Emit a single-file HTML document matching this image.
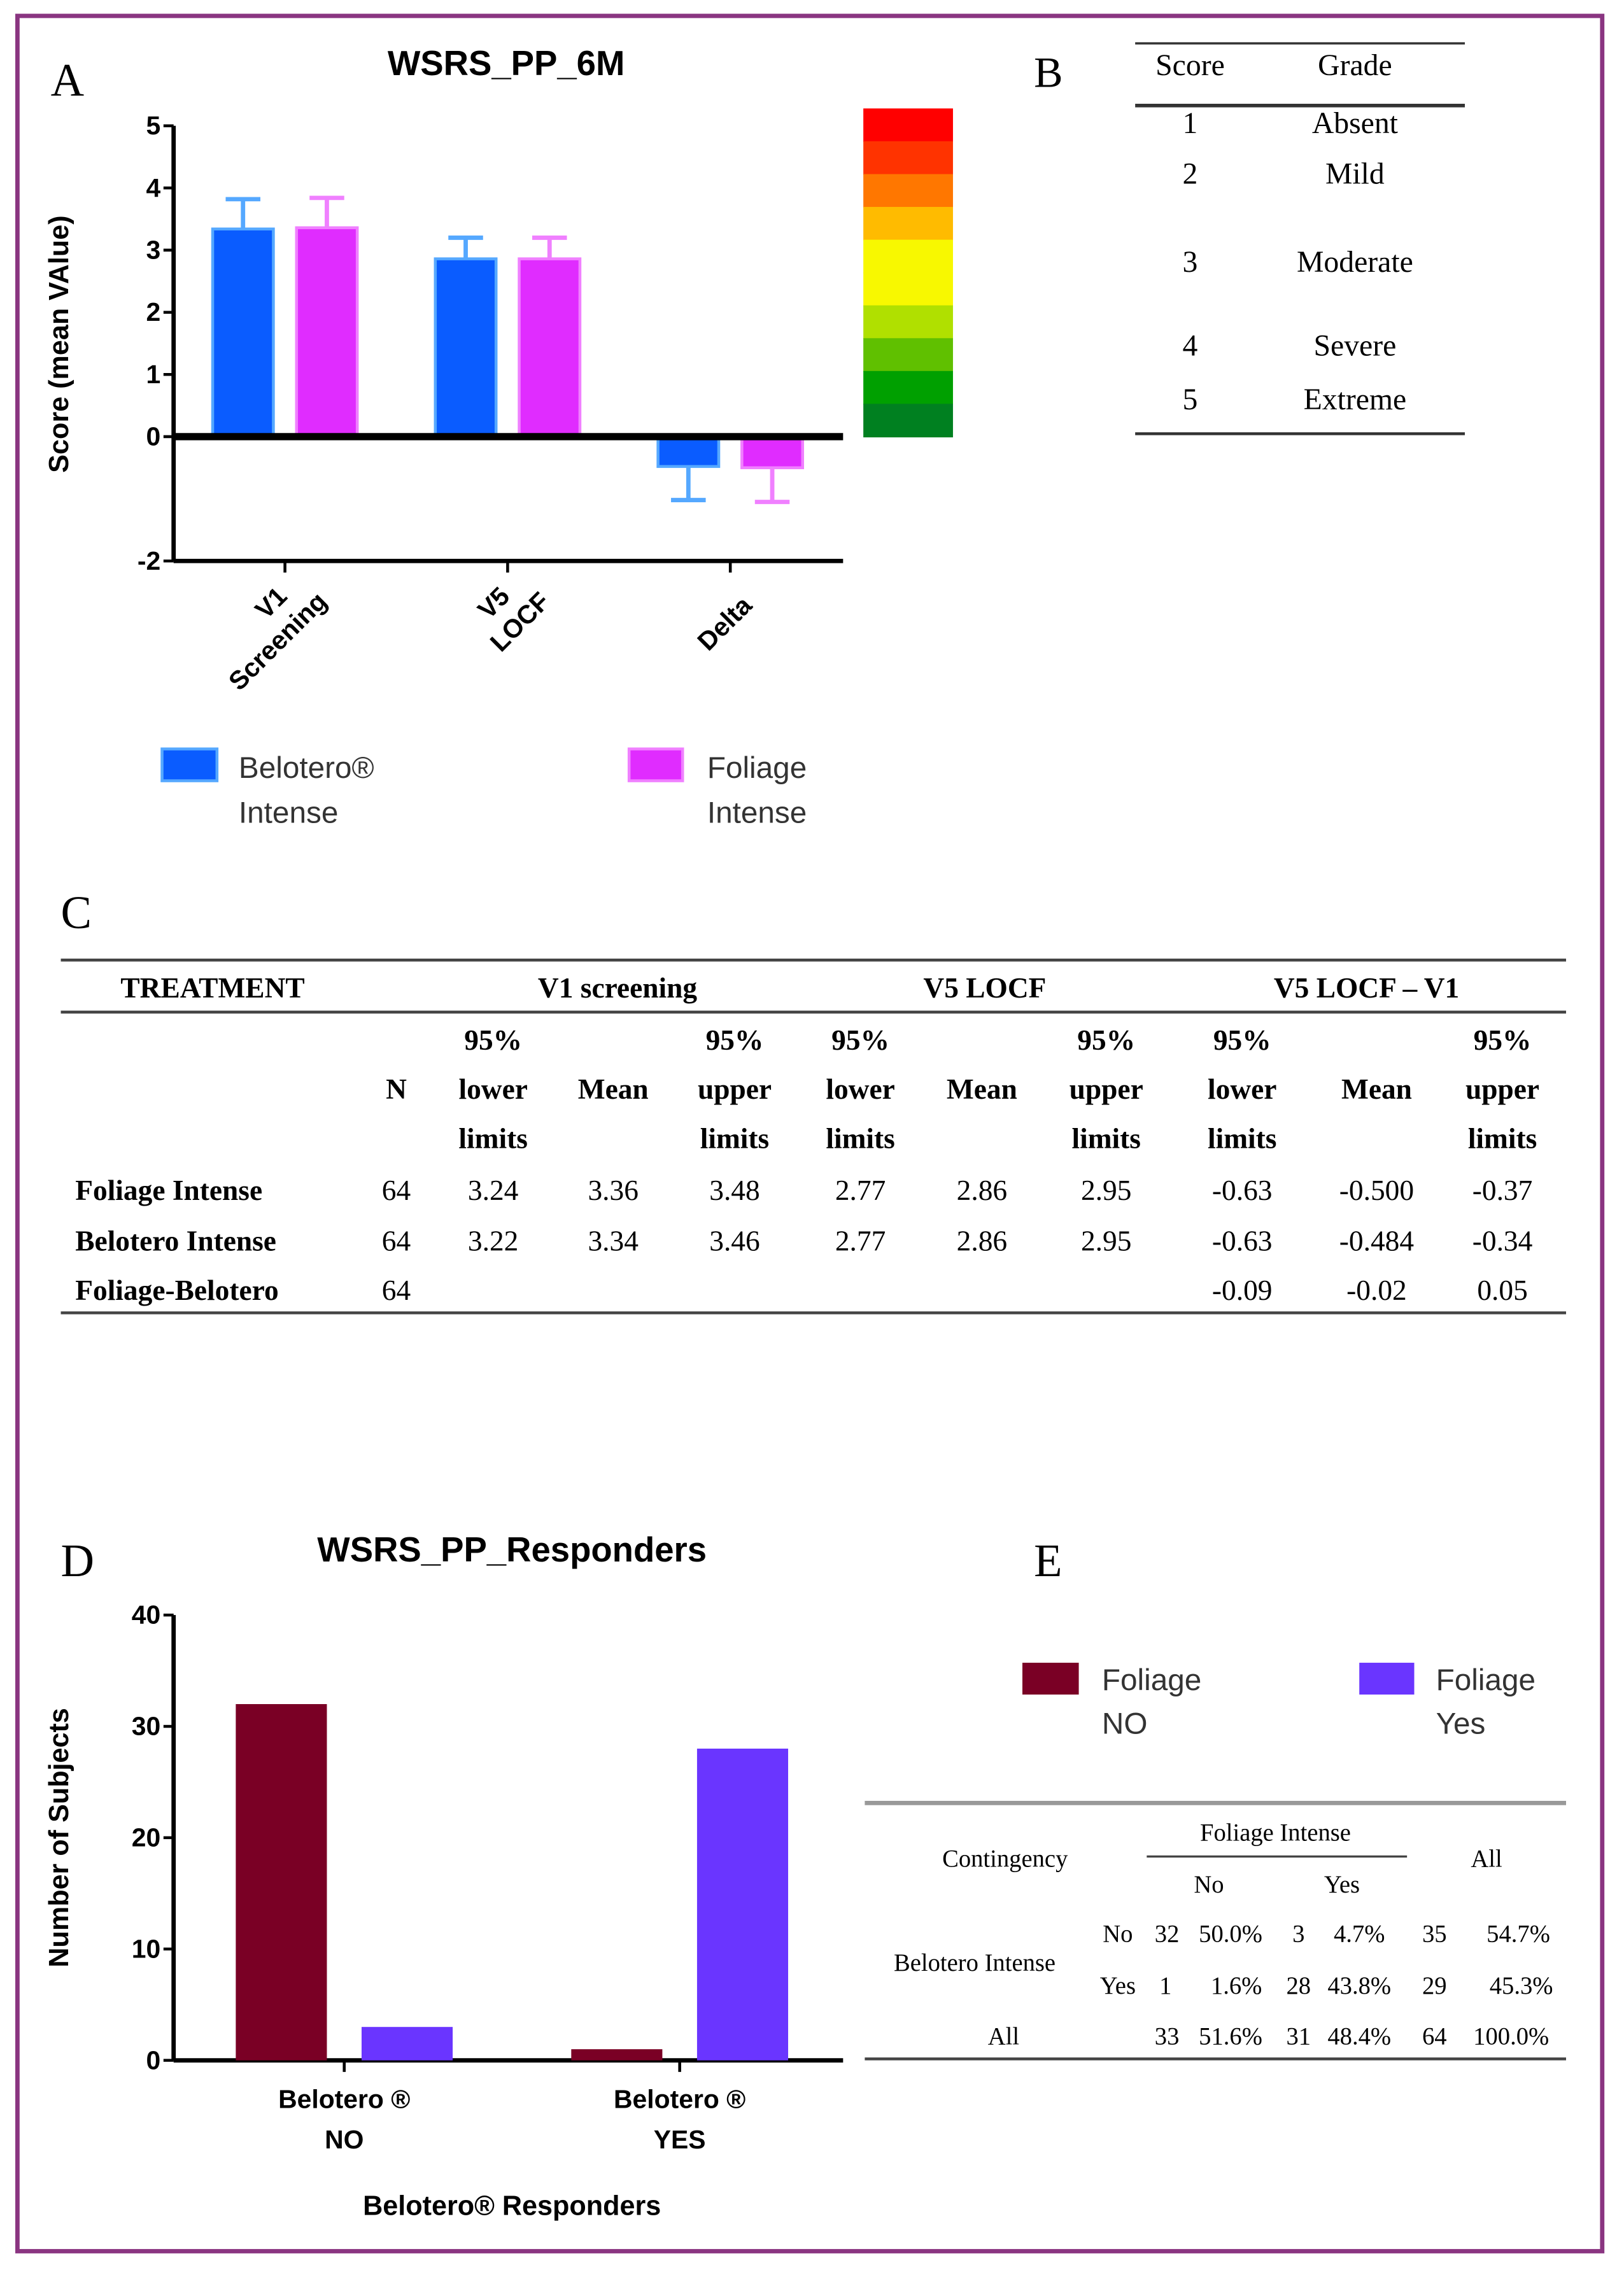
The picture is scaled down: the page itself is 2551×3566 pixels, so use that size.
<!DOCTYPE html>
<html><head><meta charset="utf-8"><style>
html,body{margin:0;padding:0;background:#fff;}
svg{display:block;}
.sans{font-family:"Liberation Sans",Arial,sans-serif;}
.serif{font-family:"Liberation Serif","Times New Roman",serif;}
</style></head><body>
<svg id="root" width="2551" height="3566" viewBox="0 0 1123 1570" xmlns="http://www.w3.org/2000/svg">
<rect x="0" y="0" width="1123" height="1570" fill="#fff"/>
<rect x="12" y="11" width="1096" height="1546" fill="none" stroke="#8a3581" stroke-width="3"/>

<!-- Panel A -->
<g id="panelA">
<text x="35" y="66" class="serif" font-size="32">A</text>
<text x="350" y="52" class="sans" font-size="24" font-weight="bold" text-anchor="middle">WSRS_PP_6M</text>
<text transform="translate(47,238) rotate(-90)" class="sans" font-size="19" font-weight="bold" text-anchor="middle">Score (mean VAlue)</text>
<g id="aBars"></g>
</g>
<g id="scale"></g>

<!-- Panel B -->
<g class="serif" font-size="21">
<text x="715" y="60" font-size="30">B</text>
<line x1="785" y1="30" x2="1013" y2="30" stroke="#333" stroke-width="1.5"/>
<text x="823" y="52" text-anchor="middle">Score</text>
<text x="937" y="52" text-anchor="middle">Grade</text>
<line x1="785" y1="73" x2="1013" y2="73" stroke="#333" stroke-width="2.5"/>
<text x="823" y="92" text-anchor="middle">1</text><text x="937" y="92" text-anchor="middle">Absent</text>
<text x="823" y="127" text-anchor="middle">2</text><text x="937" y="127" text-anchor="middle">Mild</text>
<text x="823" y="188" text-anchor="middle">3</text><text x="937" y="188" text-anchor="middle">Moderate</text>
<text x="823" y="246" text-anchor="middle">4</text><text x="937" y="246" text-anchor="middle">Severe</text>
<text x="823" y="283" text-anchor="middle">5</text><text x="937" y="283" text-anchor="middle">Extreme</text>
<line x1="785" y1="300" x2="1013" y2="300" stroke="#333" stroke-width="2"/>
</g>

<!-- Panel C -->
<g class="serif" font-size="20">
<text x="42" y="642" font-size="32">C</text>
<line x1="42" y1="664" x2="1083" y2="664" stroke="#444" stroke-width="2"/>
<text x="147" y="690" text-anchor="middle" font-weight="bold">TREATMENT</text>
<text x="427" y="690" text-anchor="middle" font-weight="bold">V1 screening</text>
<text x="681" y="690" text-anchor="middle" font-weight="bold">V5 LOCF</text>
<text x="945" y="690" text-anchor="middle" font-weight="bold">V5 LOCF – V1</text>
<line x1="42" y1="700" x2="1083" y2="700" stroke="#444" stroke-width="2"/>
<g font-weight="bold" text-anchor="middle">
<text x="274" y="760">N</text>
<text x="424" y="760">Mean</text><text x="679" y="760">Mean</text><text x="952" y="760">Mean</text>
<text x="341" y="726">95%</text><text x="341" y="760">lower</text><text x="341" y="794">limits</text>
<text x="508" y="726">95%</text><text x="508" y="760">upper</text><text x="508" y="794">limits</text>
<text x="595" y="726">95%</text><text x="595" y="760">lower</text><text x="595" y="794">limits</text>
<text x="765" y="726">95%</text><text x="765" y="760">upper</text><text x="765" y="794">limits</text>
<text x="859" y="726">95%</text><text x="859" y="760">lower</text><text x="859" y="794">limits</text>
<text x="1039" y="726">95%</text><text x="1039" y="760">upper</text><text x="1039" y="794">limits</text>
</g>
<g font-weight="bold"><text x="52" y="830">Foliage Intense</text><text x="52" y="865">Belotero Intense</text><text x="52" y="899">Foliage-Belotero</text></g>
<g text-anchor="middle">
<text x="274" y="830">64</text><text x="341" y="830">3.24</text><text x="424" y="830">3.36</text><text x="508" y="830">3.48</text><text x="595" y="830">2.77</text><text x="679" y="830">2.86</text><text x="765" y="830">2.95</text><text x="859" y="830">-0.63</text><text x="952" y="830">-0.500</text><text x="1039" y="830">-0.37</text>
<text x="274" y="865">64</text><text x="341" y="865">3.22</text><text x="424" y="865">3.34</text><text x="508" y="865">3.46</text><text x="595" y="865">2.77</text><text x="679" y="865">2.86</text><text x="765" y="865">2.95</text><text x="859" y="865">-0.63</text><text x="952" y="865">-0.484</text><text x="1039" y="865">-0.34</text>
<text x="274" y="899">64</text><text x="859" y="899">-0.09</text><text x="952" y="899">-0.02</text><text x="1039" y="899">0.05</text>
</g>
<line x1="42" y1="908" x2="1083" y2="908" stroke="#444" stroke-width="2"/>
</g>

<!-- Panel D -->
<g id="panelD">
<text x="42" y="1090" class="serif" font-size="32">D</text>
<text x="354" y="1080" class="sans" font-size="24" font-weight="bold" text-anchor="middle">WSRS_PP_Responders</text>
<text transform="translate(47,1271) rotate(-90)" class="sans" font-size="19" font-weight="bold" text-anchor="middle">Number of Subjects</text>
<text x="354" y="1532" class="sans" font-size="19" font-weight="bold" text-anchor="middle">Belotero® Responders</text>
<g id="dBars"></g>
</g>

<!-- Panel E -->
<g>
<text x="715" y="1090" class="serif" font-size="32">E</text>
<rect x="707" y="1150" width="39" height="22" fill="#7a0025"/>
<text x="762" y="1169" class="sans" font-size="21" fill="#333">Foliage</text>
<text x="762" y="1199" class="sans" font-size="21" fill="#333">NO</text>
<rect x="940" y="1150" width="38" height="22" fill="#6a35ff"/>
<text x="993" y="1169" class="sans" font-size="21" fill="#333">Foliage</text>
<text x="993" y="1199" class="sans" font-size="21" fill="#333">Yes</text>
<g class="serif" font-size="17">
<line x1="598" y1="1247" x2="1083" y2="1247" stroke="#999" stroke-width="3"/>
<text x="882" y="1273" text-anchor="middle">Foliage Intense</text>
<line x1="793" y1="1284" x2="973" y2="1284" stroke="#444" stroke-width="1.5"/>
<text x="695" y="1291" text-anchor="middle">Contingency</text>
<text x="1028" y="1291" text-anchor="middle">All</text>
<text x="836" y="1309" text-anchor="middle">No</text><text x="928" y="1309" text-anchor="middle">Yes</text>
<text x="674" y="1363" text-anchor="middle">Belotero Intense</text>
<g text-anchor="middle">
<text x="773" y="1343">No</text><text x="807" y="1343">32</text><text x="851" y="1343">50.0%</text><text x="898" y="1343">3</text><text x="940" y="1343">4.7%</text><text x="992" y="1343">35</text><text x="1050" y="1343">54.7%</text>
<text x="773" y="1379">Yes</text><text x="806" y="1379">1</text><text x="855" y="1379">1.6%</text><text x="898" y="1379">28</text><text x="940" y="1379">43.8%</text><text x="992" y="1379">29</text><text x="1052" y="1379">45.3%</text>
<text x="694" y="1414">All</text><text x="807" y="1414">33</text><text x="851" y="1414">51.6%</text><text x="898" y="1414">31</text><text x="940" y="1414">48.4%</text><text x="992" y="1414">64</text><text x="1045" y="1414">100.0%</text>
</g>
<line x1="598" y1="1424" x2="1083" y2="1424" stroke="#444" stroke-width="2"/>
</g>
</g>
</svg>
<script>
// Chart A data
const aCategories = ["V1 Screening", "V5 LOCF", "Delta"];
const aBelotero = [3.34, 2.86, -0.48];
const aFoliage = [3.36, 2.86, -0.50];
const aBeloteroErr = [3.82, 3.2, -1.02];
const aFoliageErr = [3.84, 3.2, -1.05];
const aTicks = [5, 4, 3, 2, 1, 0, -2];
// Chart D data
const dCategories = ["Belotero ® NO", "Belotero ® YES"];
const dFoliageNo = [32, 1];
const dFoliageYes = [3, 28];
const dTicks = [40, 30, 20, 10, 0];
// color scale bands
const scaleColors = ["#ff0000","#ff3300","#ff7700","#ffbb00","#f8f800","#f8f800","#b0e000","#60c000","#00a000","#008020"];

const NS = "http://www.w3.org/2000/svg";
function mk(parent, tag, attrs, txt){const e=document.createElementNS(NS,tag);for(const k in attrs)e.setAttribute(k,attrs[k]);if(txt!=null)e.textContent=txt;parent.appendChild(e);return e;}

// Chart A
(function(){
  const g=document.getElementById('aBars');
  const x0=120,x1=583;
  const ya=v=>302-v*43;
  const xc=i=>197+i*154;
  mk(g,'line',{x1:x0,y1:ya(5),x2:x0,y2:ya(-2),stroke:'#000','stroke-width':3});
  mk(g,'line',{x1:x0,y1:ya(-2),x2:x1,y2:ya(-2),stroke:'#000','stroke-width':3});
  aTicks.forEach(t=>{
    const l=mk(g,'line',{x1:x0-7,y1:ya(t),x2:x0,y2:ya(t),stroke:'#000','stroke-width':2});
    
    
    const tx=mk(g,'text',{x:x0-9,y:ya(t)+6,'text-anchor':'end','font-size':18,'font-weight':'bold',class:'sans'},String(t));
    
    
  });
  aCategories.forEach((c,i)=>{
    const cx=xc(i);
    mk(g,'line',{x1:cx,y1:ya(-2),x2:cx,y2:ya(-2)+8,stroke:'#000','stroke-width':2});
    const parts=c.split(' ');
    const t=mk(g,'text',{transform:`translate(${cx+6},${ya(-2)+22}) rotate(-45)`,'text-anchor':'end','font-size':18,'font-weight':'bold',class:'sans'});
    
    
    if(parts.length===1){mk(t,'tspan',{x:0,dy:14},parts[0]);}
    else{mk(t,'tspan',{x:-5,dy:0},parts[0]);mk(t,'tspan',{x:12,dy:22},parts[1]);}
    [[aBelotero,aBeloteroErr,'#0a5cff','#55a8ff',-50,'bar-belotero'],[aFoliage,aFoliageErr,'#e02cff','#f080ff',8,'bar-foliage']].forEach(([vals,errs,col,ecol,off,name])=>{
      const v=vals[i],bx=cx+off,w=42;
      const top=Math.min(ya(v),ya(0)),h=Math.abs(ya(v)-ya(0));
      const e=errs[i];
      const ln=mk(g,'line',{x1:bx+w/2,y1:ya(v),x2:bx+w/2,y2:ya(e),stroke:ecol,'stroke-width':3});
      
      
      mk(g,'line',{x1:bx+w/2-12,y1:ya(e),x2:bx+w/2+12,y2:ya(e),stroke:ecol,'stroke-width':3});
      const r=mk(g,'rect',{x:bx,y:top,width:w,height:h,fill:col,stroke:ecol,'stroke-width':2});
      
      
    });
  });
  mk(g,'line',{x1:x0,y1:ya(0),x2:x1,y2:ya(0),stroke:'#000','stroke-width':5});
  // legend
  const l1=mk(g,'rect',{x:112,y:518,width:38,height:22,fill:'#0a5cff',stroke:'#55a8ff','stroke-width':2});
  
  
  mk(g,'text',{x:165,y:538,'font-size':21,fill:'#333',class:'sans'},'Belotero®');
  mk(g,'text',{x:165,y:569,'font-size':21,fill:'#333',class:'sans'},'Intense');
  const l2=mk(g,'rect',{x:435,y:518,width:37,height:22,fill:'#e02cff',stroke:'#f080ff','stroke-width':2});
  
  
  mk(g,'text',{x:489,y:538,'font-size':21,fill:'#333',class:'sans'},'Foliage');
  mk(g,'text',{x:489,y:569,'font-size':21,fill:'#333',class:'sans'},'Intense');
  // scale
  const s=document.getElementById('scale');
  const hb=(302-75)/scaleColors.length;
  scaleColors.forEach((c,i)=>{
    const r=mk(s,'rect',{x:597,y:75+i*hb,width:62,height:hb+0.5,fill:c});
    
    
  });
})();

// Chart D
(function(){
  const g=document.getElementById('dBars');
  const x0=120,x1=583;
  const yd=v=>1425-v*7.7;
  const xc=i=>238+i*232;
  mk(g,'line',{x1:x0,y1:yd(40),x2:x0,y2:yd(0),stroke:'#000','stroke-width':3});
  mk(g,'line',{x1:x0,y1:yd(0),x2:x1,y2:yd(0),stroke:'#000','stroke-width':3});
  dTicks.forEach(t=>{
    const l=mk(g,'line',{x1:x0-7,y1:yd(t),x2:x0,y2:yd(t),stroke:'#000','stroke-width':2});
    
    
    const tx=mk(g,'text',{x:x0-9,y:yd(t)+6,'text-anchor':'end','font-size':18,'font-weight':'bold',class:'sans'},String(t));
    
    
  });
  dCategories.forEach((c,i)=>{
    const cx=xc(i);
    mk(g,'line',{x1:cx,y1:yd(0),x2:cx,y2:yd(0)+8,stroke:'#000','stroke-width':2});
    const idx=c.lastIndexOf(' ');
    const t1=mk(g,'text',{x:cx,y:1458,'text-anchor':'middle','font-size':18,'font-weight':'bold',class:'sans'},c.slice(0,idx));
    
    
    mk(g,'text',{x:cx,y:1486,'text-anchor':'middle','font-size':18,'font-weight':'bold',class:'sans'},c.slice(idx+1));
    [[dFoliageNo,'#7a0025',-75,'bar-foliage-no'],[dFoliageYes,'#6a35ff',12,'bar-foliage-yes']].forEach(([vals,col,off,name])=>{
      const v=vals[i];
      const r=mk(g,'rect',{x:cx+off,y:yd(v),width:63,height:yd(0)-yd(v),fill:col});
      
      
    });
  });
})();
</script>
</body></html>
